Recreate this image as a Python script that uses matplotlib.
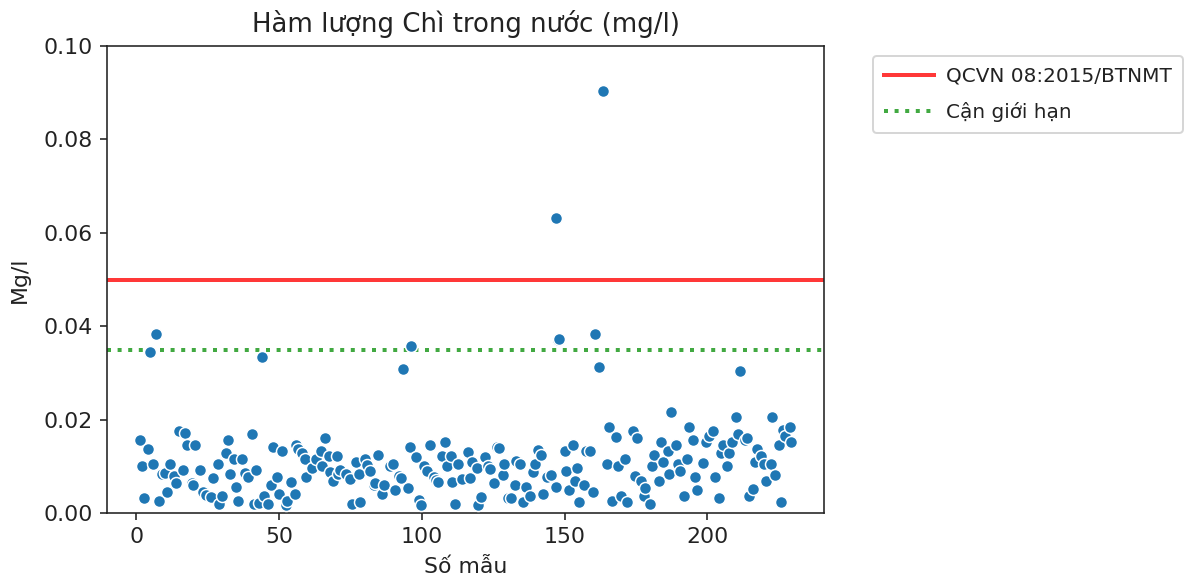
import matplotlib
matplotlib.use("Agg")
import matplotlib.pyplot as plt

# Sample index and measured lead concentration (mg/l)
sample_no = [
    1.2, 2.1, 2.9, 4.1, 4.9, 5.8, 7.0, 7.9, 9.1, 10.2, 10.8, 11.9, 13.1, 14.0, 14.9,
    16.3, 17.1, 17.8, 19.4, 20.0, 20.7, 22.3, 23.5, 24.4, 26.2, 26.8, 28.5, 28.9, 30.0,
    31.4, 32.0, 32.8, 34.3, 35.1, 35.8, 37.2, 38.1, 39.0, 40.4, 41.1, 41.9, 43.0, 44.0,
    44.8, 46.3, 47.1, 47.9, 49.4, 50.0, 50.9, 52.3, 52.7, 54.1, 55.5, 55.8, 56.8, 57.9,
    59.1, 59.6, 61.6, 62.8, 64.6, 65.1, 66.0, 67.5, 68.0, 68.9, 70.4, 70.7, 71.5, 73.5,
    74.7, 75.6, 77.0, 77.9, 78.5, 80.0, 80.8, 81.8, 83.1, 83.5, 84.5, 86.1, 86.9, 89.0,
    89.8, 90.7, 92.1, 92.8, 93.5, 95.2, 96.0, 96.3, 98.0, 98.9, 99.8, 100.9, 101.8,
    102.7, 104.1, 104.9, 105.8, 107.2, 108.0, 108.8, 110.3, 110.7, 111.7, 112.8, 114.2,
    116.1, 116.9, 117.7, 119.2, 119.8, 120.7, 122.1, 123.1, 123.9, 125.3, 126.2, 126.9,
    128.3, 128.9, 130.3, 131.4, 132.5, 133.1, 134.5, 135.4, 136.4, 137.8, 138.8, 139.6,
    140.8, 141.7, 142.3, 143.9, 145.4, 146.9, 146.9, 147.6, 148.2, 150.0, 150.6, 151.4,
    152.9, 153.5, 154.3, 155.0, 156.8, 157.6, 158.8, 159.9, 160.5, 161.9, 163.3, 164.9,
    165.7, 166.5, 168.1, 168.6, 169.6, 171.0, 171.9, 173.9, 174.7, 175.4, 176.8, 177.7,
    178.3, 180.0, 180.6, 181.4, 182.9, 183.8, 184.4, 186.1, 186.7, 187.2, 189.0, 189.8,
    190.5, 191.9, 192.8, 193.4, 195.0, 195.6, 196.2, 198.3, 199.4, 200.6, 201.8, 202.6,
    203.9, 204.7, 205.6, 207.0, 207.6, 208.5, 209.9, 210.7, 211.4, 213.0, 213.7, 214.6,
    216.1, 216.7, 217.5, 218.6, 219.8, 220.4, 222.1, 222.7, 223.5, 225.0, 225.9, 226.5,
    227.3, 228.9, 229.4,
]
lead_mg_l = [
    0.0157, 0.0101, 0.0032, 0.0137, 0.0345, 0.0105, 0.0384, 0.0026, 0.0083, 0.0086, 0.0045,
    0.0105, 0.0079, 0.0065, 0.0175, 0.0092, 0.0171, 0.0146, 0.0064, 0.0060, 0.0146, 0.0092,
    0.0046, 0.0039, 0.0035, 0.0074, 0.0105, 0.0019, 0.0037, 0.0128, 0.0157, 0.0083, 0.0116,
    0.0056, 0.0026, 0.0116, 0.0086, 0.0078, 0.0170, 0.0019, 0.0092, 0.0021, 0.0333, 0.0036,
    0.0019, 0.0060, 0.0142, 0.0078, 0.0041, 0.0133, 0.0018, 0.0026, 0.0067, 0.0041, 0.0146,
    0.0137, 0.0128, 0.0116, 0.0078, 0.0097, 0.0116, 0.0133, 0.0101, 0.0160, 0.0123, 0.0087,
    0.0069, 0.0123, 0.0083, 0.0092, 0.0083, 0.0072, 0.0019, 0.0110, 0.0083, 0.0023, 0.0116,
    0.0103, 0.0090, 0.0059, 0.0064, 0.0124, 0.0041, 0.0060, 0.0101, 0.0105, 0.0049, 0.0080,
    0.0074, 0.0309, 0.0054, 0.0142, 0.0358, 0.0119, 0.0028, 0.0017, 0.0101, 0.0090, 0.0146,
    0.0078, 0.0071, 0.0067, 0.0123, 0.0152, 0.0101, 0.0123, 0.0067, 0.0019, 0.0104, 0.0072,
    0.0130, 0.0074, 0.0110, 0.0096, 0.0017, 0.0035, 0.0119, 0.0101, 0.0094, 0.0064, 0.0142,
    0.0139, 0.0082, 0.0104, 0.0032, 0.0032, 0.0060, 0.0112, 0.0104, 0.0023, 0.0056, 0.0037,
    0.0087, 0.0105, 0.0135, 0.0124, 0.0041, 0.0078, 0.0082, 0.0631, 0.0055, 0.0371, 0.0372,
    0.0133, 0.0091, 0.0049, 0.0146, 0.0069, 0.0097, 0.0023, 0.0060, 0.0133, 0.0133, 0.0046,
    0.0384, 0.0313, 0.0903, 0.0105, 0.0184, 0.0026, 0.0162, 0.0101, 0.0037, 0.0116, 0.0023,
    0.0176, 0.0079, 0.0160, 0.0069, 0.0037, 0.0054, 0.0019, 0.0101, 0.0124, 0.0069, 0.0152,
    0.0110, 0.0133, 0.0083, 0.0216, 0.0146, 0.0105, 0.0090, 0.0037, 0.0116, 0.0184, 0.0157,
    0.0078, 0.0049, 0.0107, 0.0152, 0.0164, 0.0176, 0.0078, 0.0032, 0.0128, 0.0146, 0.0101,
    0.0128, 0.0152, 0.0205, 0.0170, 0.0303, 0.0157, 0.0160, 0.0037, 0.0051, 0.0110, 0.0137,
    0.0123, 0.0105, 0.0069, 0.0105, 0.0205, 0.0082, 0.0146, 0.0023, 0.0178, 0.0164, 0.0184,
    0.0151,
]

standard_limit = 0.05      # QCVN 08:2015/BTNMT
near_limit = 0.035         # Cận giới hạn

y_ticks = [0.00, 0.02, 0.04, 0.06, 0.08, 0.10]
x_ticks = [0, 50, 100, 150, 200]

text_color = "#222222"
plt.rcParams["font.family"] = ["DejaVu Sans"]
plt.rcParams["font.size"] = 10.5
plt.rcParams["text.color"] = text_color
plt.rcParams["axes.labelcolor"] = text_color
plt.rcParams["xtick.color"] = text_color
plt.rcParams["ytick.color"] = text_color
plt.rcParams["axes.edgecolor"] = "#222222"

fig = plt.figure(figsize=(1190 / 144, 580 / 144), dpi=144)
ax = fig.add_axes([107 / 1190, 1 - 513 / 580, (824 - 107) / 1190, (513 - 46) / 580])

ax.scatter(sample_no, lead_mg_l, s=36, color="#1f77b4", edgecolors="white",
           linewidths=0.75, zorder=3)
ax.axhline(standard_limit, color="red", alpha=0.78, linewidth=2,
           label="QCVN 08:2015/BTNMT", zorder=2)
ax.axhline(near_limit, color="#2ca02c", alpha=0.9, linestyle=":", linewidth=2,
           label="Cận giới hạn", zorder=2)

ax.set_ylim(0, 0.1)
ax.set_yticks(y_ticks)
ax.set_xticks(x_ticks)
ax.margins(x=0.05)
ax.tick_params(labelsize=11)

ax.set_title("Hàm lượng Chì trong nước (mg/l)", fontsize=13, pad=7)
ax.set_xlabel("Số mẫu", fontsize=11, labelpad=5)
ax.set_ylabel("Mg/l", fontsize=11, labelpad=7)

ax.legend(loc="upper left", bbox_to_anchor=(1.054, 1.0), fontsize=10,
          labelspacing=0.8, handlelength=2.5, handletextpad=0.6, borderpad=0.55)

fig.savefig("out.png", dpi=144)
